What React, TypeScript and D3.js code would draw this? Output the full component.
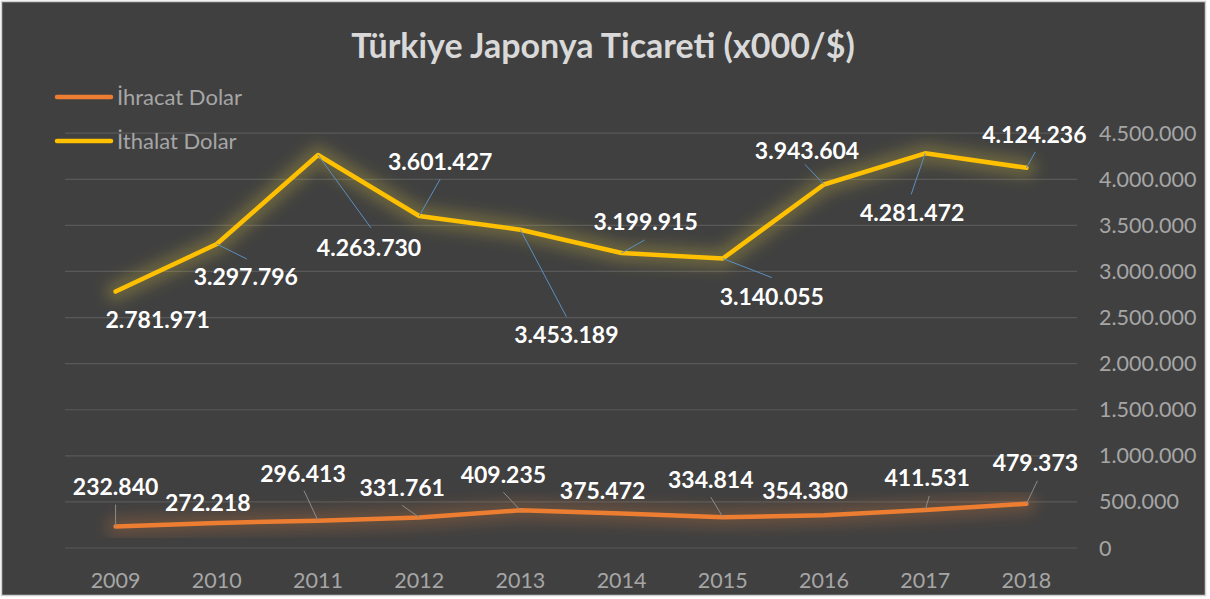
import React, { useEffect, useRef } from "react";
import * as d3 from "d3";

// Chart data
const years = ["2009", "2010", "2011", "2012", "2013", "2014", "2015", "2016", "2017", "2018"];
const ihracat = [232840, 272218, 296413, 331761, 409235, 375472, 334814, 354380, 411531, 479373];
const ithalat = [2781971, 3297796, 4263730, 3601427, 3453189, 3199915, 3140055, 3943604, 4281472, 4124236];
const yTicks = [0, 500000, 1000000, 1500000, 2000000, 2500000, 3000000, 3500000, 4000000, 4500000];
const seriesNames = ["İhracat Dolar", "İthalat Dolar"];

// Label placement (pixel offsets from the point), like Excel's dragged labels
const ithalatLabelPos: [number, number][] = [
  [42, 28], [29, 33], [51, 93], [21, -54], [46, 105], [24, -31], [49, 38], [-17, -34], [-13, 60], [8, -33],
];
const ithalatLeader: ([number, number] | null)[] = [
  null, [30, 15], [53, 73], [21, -37], [46, 87], [23, -13], [49, 19], [-19, -20], [-14, 41], [9, -16],
];
const ihracatLabelPos: [number, number][] = [
  [0, -40], [-9, -20], [-15, -47], [-17, -29], [-17, -35], [-19, -22], [-12, -37], [-19, -24], [2, -32], [9, -41],
];
const ihracatLeader: ([number, number] | null)[] = [
  [0, -22], null, [-14, -30], [-17, -12], [-17, -18], null, [-12, -20], null, [4, -14], [11, -23],
];

const D3Chart = () => {
  const ref = useRef<SVGSVGElement>(null);

  useEffect(() => {
    const width = 1210;
    const height = 599;
    const left = 65;
    const right = 1077;
    const top = 133.2;
    const bottom = 548;
    const font = "Lato, 'Open Sans', sans-serif";
    const fmt = (v: number) => d3.format(",")(v).replace(/,/g, ".");

    const svg = d3.select(ref.current);
    svg.selectAll("*").remove();
    svg.attr("width", width).attr("height", height).attr("viewBox", [0, 0, width, height].join(" "));

    const defs = svg.append("defs");
    defs
      .append("filter")
      .attr("id", "glow")
      .attr("x", "-20%")
      .attr("y", "-50%")
      .attr("width", "140%")
      .attr("height", "200%")
      .append("feGaussianBlur")
      .attr("stdDeviation", 7);

    // Background + frame
    svg
      .append("rect")
      .attr("x", 1.5)
      .attr("y", 1.5)
      .attr("width", 1204)
      .attr("height", 594)
      .attr("fill", "#404040")
      .attr("stroke", "#d0d0d0")
      .attr("stroke-width", 1.5);

    const x = d3.scalePoint<string>().domain(years).range([left, right]).padding(0.5);
    const y = d3.scaleLinear().domain([0, 4500000]).range([bottom, top]);

    // Gridlines
    svg
      .append("g")
      .selectAll("line")
      .data(yTicks)
      .join("line")
      .attr("x1", left)
      .attr("x2", right)
      .attr("y1", (d) => y(d))
      .attr("y2", (d) => y(d))
      .attr("stroke", "#595959")
      .attr("stroke-width", 1.2);

    // Right-side value labels
    svg
      .append("g")
      .selectAll("text")
      .data(yTicks)
      .join("text")
      .attr("x", 1099)
      .attr("y", (d) => y(d))
      .attr("dy", "0.35em")
      .attr("fill", "#a6a6a6")
      .attr("font-family", font)
      .attr("font-size", 21.5)
      .text((d) => fmt(d));

    // Year labels
    svg
      .append("g")
      .selectAll("text")
      .data(years)
      .join("text")
      .attr("x", (d) => x(d)!)
      .attr("y", 580)
      .attr("dy", "0.35em")
      .attr("text-anchor", "middle")
      .attr("fill", "#a6a6a6")
      .attr("font-family", font)
      .attr("font-size", 21.5)
      .text((d) => d);

    const line = d3
      .line<number>()
      .x((_, i) => x(years[i])!)
      .y((d) => y(d));

    const series = [
      { values: ithalat, color: "#FFC000", glow: "#E8D040", pos: ithalatLabelPos, leader: ithalatLeader, leaderColor: "#5b8fc0" },
      { values: ihracat, color: "#ED7D31", glow: "#D97A3A", pos: ihracatLabelPos, leader: ihracatLeader, leaderColor: "#8c8c8c" },
    ];

    series.forEach((s) => {
      svg
        .append("path")
        .datum(s.values)
        .attr("d", line)
        .attr("fill", "none")
        .attr("stroke", s.glow)
        .attr("stroke-opacity", 0.25)
        .attr("stroke-width", 20)
        .attr("stroke-linejoin", "round")
        .attr("stroke-linecap", "round")
        .attr("filter", "url(#glow)");
    });

    series.forEach((s) => {
      svg
        .append("path")
        .datum(s.values)
        .attr("d", line)
        .attr("fill", "none")
        .attr("stroke", s.color)
        .attr("stroke-width", 4.5)
        .attr("stroke-linejoin", "round")
        .attr("stroke-linecap", "round");

      // Leader lines
      svg
        .append("g")
        .selectAll("line")
        .data(s.values.map((v, i) => ({ v, i, l: s.leader[i] })).filter((d) => d.l))
        .join("line")
        .attr("x1", (d) => x(years[d.i])!)
        .attr("y1", (d) => y(d.v))
        .attr("x2", (d) => x(years[d.i])! + d.l![0])
        .attr("y2", (d) => y(d.v) + d.l![1])
        .attr("stroke", s.leaderColor)
        .attr("stroke-width", 1);
    });

    series.forEach((s) => {
      svg
        .append("g")
        .selectAll("text")
        .data(s.values)
        .join("text")
        .attr("x", (d, i) => x(years[i])! + s.pos[i][0])
        .attr("y", (d, i) => y(d) + s.pos[i][1])
        .attr("dy", "0.35em")
        .attr("text-anchor", "middle")
        .attr("fill", "#ffffff")
        .attr("font-family", font)
        .attr("font-weight", "bold")
        .attr("font-size", 23)
        .text((d) => fmt(d));
    });

    // Legend
    const legendColors = ["#ED7D31", "#FFC000"];
    const legend = svg
      .append("g")
      .selectAll("g")
      .data(seriesNames)
      .join("g")
      .attr("transform", (_, i) => `translate(57,${97 + i * 44})`);
    legend
      .append("line")
      .attr("x1", 0)
      .attr("x2", 54)
      .attr("stroke", (_, i) => legendColors[i])
      .attr("stroke-width", 4.5)
      .attr("stroke-linecap", "round");
    legend
      .append("text")
      .attr("x", 60)
      .attr("dy", "0.35em")
      .attr("fill", "#a6a6a6")
      .attr("font-family", font)
      .attr("font-size", 22)
      .text((d) => d);

    // Title
    svg
      .append("text")
      .attr("x", 603)
      .attr("y", 46)
      .attr("dy", "0.35em")
      .attr("text-anchor", "middle")
      .attr("fill", "#d9d9d9")
      .attr("font-family", font)
      .attr("font-weight", "bold")
      .attr("font-size", 34)
      .text("Türkiye Japonya Ticareti (x000/$)");
  }, []);

  return <svg ref={ref} style={{ position: "absolute", left: 0, top: 0 }} />;
};

export default function App() {
  return <D3Chart />;
}
